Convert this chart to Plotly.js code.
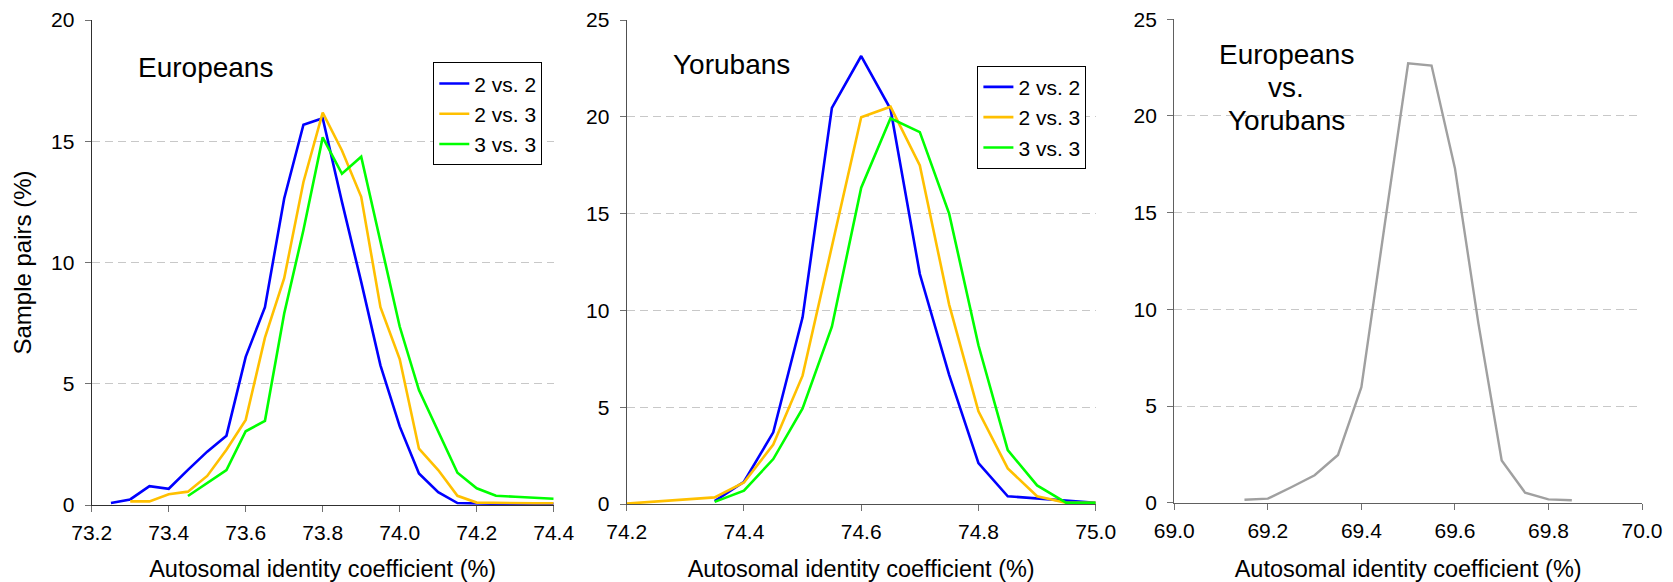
<!DOCTYPE html>
<html>
<head>
<meta charset="utf-8">
<script src="https://cdn.plot.ly/plotly-3.0.1.min.js"></script>
<style>
  html, body { margin: 0; padding: 0; background: #ffffff; }
  #chart { width: 1673px; height: 582px; }
</style>
</head>
<body>
<div id="chart"></div>
<script>
// ---------- Data ----------
const seriesNames = ["2 vs. 2", "2 vs. 3", "3 vs. 3"];

// Europeans
const eurX22 = [73.25, 73.30, 73.35, 73.40, 73.45, 73.50, 73.55, 73.60, 73.65, 73.70, 73.75, 73.80, 73.85, 73.90, 73.95, 74.00, 74.05, 74.10, 74.15, 74.20, 74.25, 74.30, 74.35, 74.40];
const eurY22 = [0.08, 0.23, 0.78, 0.67, 1.45, 2.2, 2.86, 6.11, 8.16, 12.64, 15.68, 15.95, 12.5, 9.2, 5.76, 3.24, 1.3, 0.53, 0.08, 0.05, 0.05, 0.05, 0.05, 0.05];
const eurX23 = [73.30, 73.35, 73.40, 73.45, 73.50, 73.55, 73.60, 73.65, 73.70, 73.75, 73.80, 73.85, 73.90, 73.95, 74.00, 74.05, 74.10, 74.15, 74.20, 74.25, 74.30, 74.35, 74.40];
const eurY23 = [0.15, 0.15, 0.44, 0.55, 1.2, 2.28, 3.51, 6.9, 9.35, 13.32, 16.18, 14.62, 12.71, 8.16, 6.02, 2.32, 1.44, 0.38, 0.1, 0.08, 0.07, 0.07, 0.07];
const eurX33 = [73.45, 73.50, 73.55, 73.60, 73.65, 73.70, 73.75, 73.80, 73.85, 73.90, 73.95, 74.00, 74.05, 74.10, 74.15, 74.20, 74.25, 74.30, 74.35, 74.40];
const eurY33 = [0.37, 0.92, 1.44, 3.04, 3.47, 7.9, 11.34, 15.16, 13.66, 14.36, 10.88, 7.36, 4.74, 3.04, 1.33, 0.69, 0.38, 0.34, 0.31, 0.26];

// Yorubans
const yorX22 = [74.35, 74.40, 74.45, 74.50, 74.55, 74.60, 74.65, 74.70, 74.75, 74.80, 74.85, 74.90, 74.95, 75.00];
const yorY22 = [0.15, 1.15, 3.7, 9.64, 20.46, 23.14, 20.4, 11.88, 6.67, 2.11, 0.4, 0.29, 0.19, 0.06];
const yorX23 = [74.20, 74.35, 74.40, 74.45, 74.50, 74.55, 74.60, 74.65, 74.70, 74.75, 74.80, 74.85, 74.90, 74.95, 75.00];
const yorY23 = [0.02, 0.34, 1.11, 3.07, 6.63, 13.37, 19.98, 20.52, 17.49, 10.3, 4.79, 1.84, 0.4, 0.06, 0.06];
const yorX33 = [74.35, 74.40, 74.45, 74.50, 74.55, 74.60, 74.65, 74.70, 74.75, 74.80, 74.85, 74.90, 74.95, 75.00];
const yorY33 = [0.11, 0.69, 2.32, 4.94, 9.16, 16.34, 19.92, 19.21, 15.0, 8.2, 2.78, 0.96, 0.06, 0.06];

// Europeans vs. Yorubans
const eyX = [69.15, 69.20, 69.25, 69.30, 69.35, 69.40, 69.45, 69.50, 69.55, 69.60, 69.65, 69.70, 69.75, 69.80, 69.85];
const eyY = [0.15, 0.21, 0.8, 1.42, 2.47, 5.97, 14.4, 22.72, 22.61, 17.3, 9.3, 2.18, 0.52, 0.17, 0.13];

// Tick values
const eurXTicks = [73.2, 73.4, 73.6, 73.8, 74.0, 74.2, 74.4];
const yorXTicks = [74.2, 74.4, 74.6, 74.8, 75.0];
const eyXTicks = [69.0, 69.2, 69.4, 69.6, 69.8, 70.0];
const eurYTicks = [0, 5, 10, 15, 20];
const yorYTicks = [0, 5, 10, 15, 20, 25];

const panel1Label = "Europeans";
const panel2Label = "Yorubans";
const panel3Lines = ["Europeans", "vs.", "Yorubans"];
const xTitle = "Autosomal identity coefficient (%)";
const yTitle = "Sample pairs (%)";

// ---------- Styles ----------
const FONT = "'Liberation Sans', Arial, Helvetica, sans-serif";
const colors = ["#0000ff", "#ffc000", "#00ff00"];
const W = 1673, H = 582;

function line(x, y, name, color, xa, ya, legend, show, width) {
  return {
    type: "scatter", mode: "lines", x: x, y: y, name: name,
    xaxis: xa, yaxis: ya, legend: legend, showlegend: show,
    line: { color: color, width: width || 2.6 },
    hoverinfo: "x+y+name"
  };
}

const traces = [
  line(eurX22, eurY22, seriesNames[0], colors[0], "x", "y", "legend", true),
  line(eurX23, eurY23, seriesNames[1], colors[1], "x", "y", "legend", true),
  line(eurX33, eurY33, seriesNames[2], colors[2], "x", "y", "legend", true),
  line(yorX22, yorY22, seriesNames[0], colors[0], "x2", "y2", "legend2", true),
  line(yorX23, yorY23, seriesNames[1], colors[1], "x2", "y2", "legend2", true),
  line(yorX33, yorY33, seriesNames[2], colors[2], "x2", "y2", "legend2", true),
  line(eyX, eyY, "Europeans vs. Yorubans", "#a0a0a0", "x3", "y3", "legend", false, 2.4)
];

function px(v) { return v / W; }
function py(v) { return 1 - v / H; }

function xAxis(domain, range, ticks, anchor, lineColor) {
  return {
    domain: domain, range: range, anchor: anchor,
    tickmode: "array", tickvals: ticks, tickformat: ".1f",
    showline: true, linecolor: lineColor, linewidth: 1.3,
    ticks: "outside", ticklen: 6, tickcolor: "#707070", tickwidth: 1.3,
    showgrid: false, zeroline: false,
    tickfont: { family: FONT, size: 21, color: "#000" },
    ticklabelstandoff: 3,
    title: { text: xTitle, font: { family: FONT, size: 23.5, color: "#000" }, standoff: 21 },
    fixedrange: true
  };
}
function yAxis(domain, range, ticks, anchor, lineColor, title) {
  const a = {
    domain: domain, range: range, anchor: anchor,
    tickmode: "array", tickvals: ticks,
    showline: true, linecolor: lineColor, linewidth: 1.3,
    ticks: "outside", ticklen: 6, tickcolor: "#707070", tickwidth: 1.3,
    showgrid: true, gridcolor: "#c8c8c8", gridwidth: 1, griddash: "8px,5px",
    zeroline: false,
    tickfont: { family: FONT, size: 21, color: "#000" },
    ticklabelstandoff: 6,
    fixedrange: true
  };
  if (title) a.title = { text: title, font: { family: FONT, size: 24, color: "#000" }, standoff: 12 };
  return a;
}

const legendBase = {
  bgcolor: "#ffffff", bordercolor: "#000000", borderwidth: 1,
  font: { family: FONT, size: 21, color: "#000" },
  xanchor: "left", yanchor: "top", itemwidth: 30, tracegroupgap: 0,
  itemclick: false, itemdoubleclick: false
};

const annFont = { family: FONT, size: 28, color: "#000" };
function ann(text, x, y, xanchor) {
  return { text: text, xref: "paper", yref: "paper", x: px(x), y: py(y), xanchor: xanchor, yanchor: "middle",
           showarrow: false, align: "center", font: annFont };
}

const layout = {
  width: W, height: H,
  margin: { l: 0, r: 0, t: 0, b: 0 },
  paper_bgcolor: "#ffffff", plot_bgcolor: "#ffffff",
  font: { family: FONT, color: "#000" },
  showlegend: true,
  xaxis: xAxis([px(91.7), px(553.7)], [73.2, 74.4], eurXTicks, "y", "#303030"),
  yaxis: yAxis([py(505), py(20)], [0, 20], eurYTicks, "x", "#303030", yTitle),
  xaxis2: xAxis([px(626.7), px(1095.7)], [74.2, 75.0], yorXTicks, "y2", "#505050"),
  yaxis2: yAxis([py(504), py(20)], [0, 25], yorYTicks, "x2", "#505050"),
  xaxis3: xAxis([px(1174.3), px(1642)], [69.0, 70.0], eyXTicks, "y3", "#606060"),
  yaxis3: yAxis([py(502.7), py(19.3)], [0, 25], yorYTicks, "x3", "#606060"),
  legend: Object.assign({}, legendBase, { x: px(433.3), y: py(62.3) }),
  legend2: Object.assign({}, legendBase, { x: px(977.4), y: py(65.7) }),
  annotations: [
    ann(panel1Label, 136, 67, "left"),
    ann(panel2Label, 671.4, 64, "left"),
    ann(panel3Lines[0], 1286.4, 54.5, "center"),
    ann(panel3Lines[1], 1286.4, 87, "center"),
    ann(panel3Lines[2], 1286.4, 120.5, "center")
  ]
};

Plotly.newPlot("chart", traces, layout, { displayModeBar: false, responsive: false });
</script>
</body>
</html>
